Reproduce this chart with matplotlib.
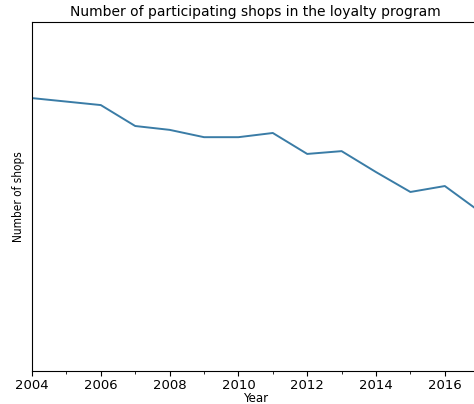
import matplotlib
matplotlib.use("Agg")
import matplotlib.pyplot as plt
from matplotlib.ticker import MultipleLocator

years = [2004, 2005, 2006, 2007, 2008, 2009, 2010, 2011, 2012, 2013, 2014, 2015, 2016, 2017]
shops = [78.2, 77.2, 76.2, 70.2, 69.1, 67.0, 67.0, 68.2, 62.2, 63.0, 57.0, 51.3, 53.0, 45.8]

fig = plt.figure(figsize=(4.74, 4.04), dpi=100)
# axes run past the right edge, as in the reference
ax = fig.add_axes([0.0675, 0.0817, 0.9435, 0.8638])
ax.plot(years, shops, color='#3a7ca6', linewidth=1.4)

ax.set_xlim(2004, 2017)
ax.set_ylim(0, 100)
ax.xaxis.set_major_locator(MultipleLocator(2))
ax.xaxis.set_minor_locator(MultipleLocator(1))
ax.tick_params(axis='x', labelsize=9.5, length=3.5, pad=2)
ax.tick_params(axis='x', which='minor', length=2)
ax.set_yticks([])
ax.spines['right'].set_visible(False)

ax.set_title('Number of participating shops in the loyalty program', fontsize=10, pad=4)
ax.set_xlabel('Year', fontsize=8.5)
ax.xaxis.set_label_coords(0.5, -0.059)
ax.set_ylabel('Number of shops', fontsize=8.5, fontstretch='condensed')
ax.yaxis.set_label_coords(-0.016, 0.5)

fig.savefig('out.png', dpi=100)
